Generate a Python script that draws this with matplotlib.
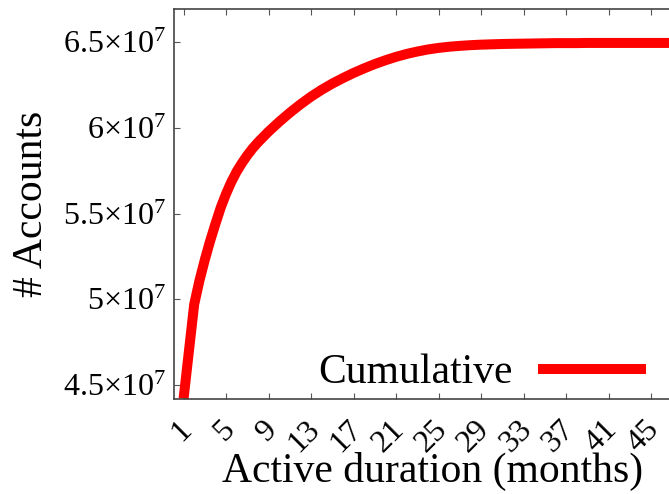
import matplotlib
matplotlib.use('Agg')
import matplotlib.pyplot as plt
import matplotlib.transforms as mtransforms

plt.rcParams['font.family'] = ['Liberation Serif', 'DejaVu Serif']
plt.rcParams['mathtext.fontset'] = 'custom'
plt.rcParams['mathtext.rm'] = 'Liberation Serif'
plt.rcParams['mathtext.it'] = 'Liberation Serif:italic'

# cumulative number of accounts by active duration (months)
months = [1, 2, 2.5, 3, 3.5, 4, 4.5, 5, 5.5, 6, 6.5, 7, 7.5, 8, 9, 10,
          11, 12, 13, 14, 15, 16, 17, 18, 19, 20,
          21, 22, 23, 24, 25, 26, 27, 28, 29, 30,
          31, 32, 33, 34, 35, 36, 37, 38, 39, 40,
          41, 42, 43, 44, 45, 46, 47, 48]
accounts = [4.42, 4.97, 5.11, 5.23, 5.34, 5.44, 5.535, 5.615, 5.685, 5.745, 5.795, 5.84, 5.88, 5.915, 5.978, 6.035,
            6.088, 6.137, 6.182, 6.222, 6.258, 6.29, 6.32, 6.347, 6.372, 6.394,
            6.414, 6.431, 6.445, 6.457, 6.466, 6.473, 6.478, 6.482, 6.485, 6.487,
            6.489, 6.49, 6.491, 6.492, 6.493, 6.494, 6.494, 6.494, 6.495, 6.495,
            6.495, 6.495, 6.495, 6.495, 6.495, 6.495, 6.495, 6.495]
accounts = [v * 1e7 for v in accounts]

xticks = list(range(1, 46, 4))
yticks = [4.5e7, 5e7, 5.5e7, 6e7, 6.5e7]
ytick_labels = [r'4.5$\times$10$^{7}$', r'5$\times$10$^{7}$', r'5.5$\times$10$^{7}$',
                r'6$\times$10$^{7}$', r'6.5$\times$10$^{7}$']

W, H = 669, 494
fig = plt.figure(figsize=(W / 100, H / 100), dpi=100)
ax = fig.add_axes([174 / W, 1 - 399 / H, (683 - 174) / W, 390 / H])

ax.plot(months, accounts, color='#ff0000', lw=7.2, solid_capstyle='butt',
        solid_joinstyle='round', label='Cumulative')

ax.set_xlim(0.1, 48)
ax.set_ylim(4.418e7, 6.693e7)

ax.set_xticks(xticks)
ax.set_xticklabels([str(t) for t in xticks])
ax.set_yticks(yticks)
ax.set_yticklabels(ytick_labels)

for s in ax.spines.values():
    s.set_color('#444444')
    s.set_linewidth(1.2)
ax.tick_params(direction='in', top=True, right=True, length=4.5, width=0.8,
               color='#555555', labelsize=23, pad=6)
ax.tick_params(axis='x', pad=19)

offset = mtransforms.ScaledTranslation(4 / 100, 0, fig.dpi_scale_trans)
for lbl in ax.get_xticklabels():
    lbl.set_rotation(45)
    lbl.set_ha('right')
    lbl.set_va('center')
    lbl.set_rotation_mode('anchor')
    lbl.set_transform(lbl.get_transform() + offset)

ax.set_xlabel('Active duration (months)', fontsize=30)
ax.xaxis.set_label_coords(433 / W, 1 - 452 / H, transform=fig.transFigure)
ax.set_ylabel('# Accounts', fontsize=30)
ax.yaxis.set_label_coords(51 / W, 1 - 204 / H, transform=fig.transFigure)

ax.legend(loc='center right', bbox_to_anchor=(646 / W, 1 - 373 / H),
          bbox_transform=fig.transFigure, frameon=False, markerfirst=False,
          fontsize=30, handlelength=2.6, handletextpad=0.6, borderpad=0,
          borderaxespad=0)

fig.savefig('out.png', dpi=100)
